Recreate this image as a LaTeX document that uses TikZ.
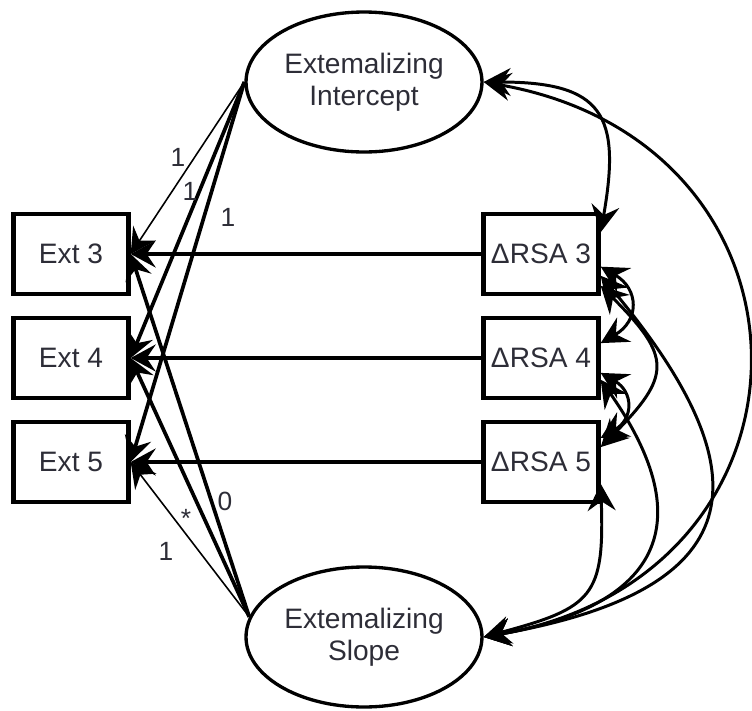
\documentclass[tikz,border=0pt]{standalone}
\usepackage{fontspec}
\setmainfont{Liberation Sans}
\usetikzlibrary{
    arrows.meta,
    shapes.geometric,
    positioning
}
\definecolor{ink}{RGB}{0,0,0}
\definecolor{labeltext}{RGB}{45,45,55}
\tikzset{
    line cap=round,
    line join=round,
    observed/.style={
        rectangle,
        draw=ink,
        line width=2.5pt,
        minimum width=2.30cm,
        minimum height=1.60cm,
        inner sep=0pt,
        text=labeltext,
        font=\fontsize{16}{18}\selectfont
    },
    latent/.style={
        ellipse,
        draw=ink,
        line width=1.9pt,
        minimum width=4.72cm,
        minimum height=2.80cm,
        inner sep=0pt,
        align=center,
        text=labeltext,
        font=\fontsize{16}{18}\selectfont
    },
    regress/.style={
        -{Stealth[length=5mm, width=5.4mm, inset=1.8mm]},
        draw=ink,
        line width=1.8pt
    },
    loading/.style={
        regress,
        line width=2.1pt
    },
    loadingthin/.style={
        regress,
        line width=0.9pt
    },
    covar/.style={
        {Stealth[length=5.4mm, width=5.6mm, inset=1.9mm]}-{Stealth[length=5.4mm, width=5.6mm, inset=1.9mm]},
        draw=ink,
        line width=1.7pt
    },
    coef/.style={
        text=labeltext,
        inner sep=1pt,
        font=\fontsize{15}{17}\selectfont
    }
}

\begin{document}
\begin{tikzpicture}[x=0.02cm, y=0.02cm]
\useasboundingbox (0,0) rectangle (752,-711);

% growth factors
\node[latent] (int) at (364,-82) {Extemalizing\\Intercept};
\node[latent] (slope) at (364,-637) {Extemalizing\\Slope};

% repeated measures and time-varying covariates
\foreach \w/\y in {3/-254, 4/-358, 5/-462} {
    \node[observed] (ext\w) at (71,\y) {Ext \w};
    \node[observed] (rsa\w) at (541,\y) {ΔRSA \w};
}

% time-varying effects
\foreach \w in {3,4,5} {
    \draw[regress] (rsa\w.west) -- (ext\w.east);
}

% factor loadings
\draw[loadingthin] (int.west) -- (ext3.east);
\draw[loading] (int.west) -- (ext4.east);
\draw[loading] (int.west) -- (ext5.east);
\draw[loading] (slope.170) -- (ext3.east);
\draw[loading] (slope.170) -- (ext4.east);
\draw[loadingthin] (slope.170) -- (ext5.east);

\node[coef] (l1) at (178,-157) {1};
\node[coef] (l2) at (190,-191) {1};
\node[coef] (l3) at (228,-217) {1};
\node[coef] (s0) at (225,-501) {0};
\node[coef] (sx) at (186,-518) {*};
\node[coef] (s1) at (166,-551) {1};

% covariances
\draw[covar] (int.east) to[out=0, in=80, looseness=1.6] (rsa3.20);
\draw[covar] (int.east) to[out=-10, in=10, looseness=1.65] (slope.east);
\draw[covar] (slope.east) to[out=10, in=-50, looseness=1.8] (rsa3.-20);
\draw[covar] (slope.east) to[out=10, in=-55, looseness=1.6] (rsa4.-20);
\draw[covar] (slope.east) to[out=15, in=-88, looseness=1.5] (rsa5.-20);
\draw[covar] (rsa3.-12) to[bend left=60, looseness=1.5] (rsa4.14);
\draw[covar] (rsa3.-28) to[bend left=45, looseness=1.6] (rsa5.14);
\draw[covar] (rsa4.-14) to[bend left=60, looseness=1.5] (rsa5.22);

\end{tikzpicture}
\end{document}
